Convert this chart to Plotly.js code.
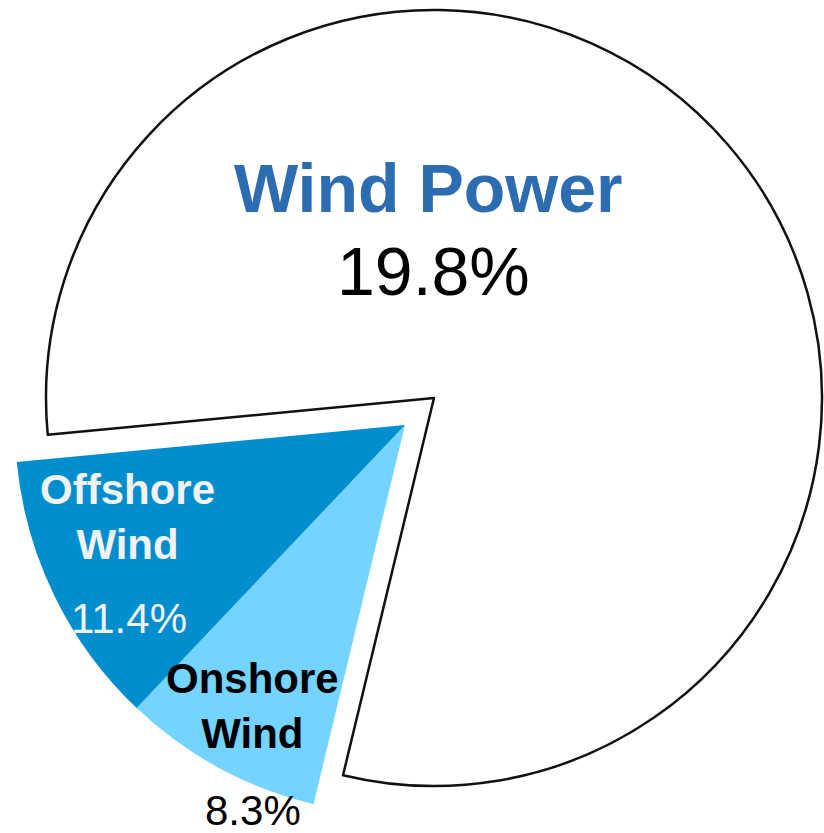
<!DOCTYPE html>
<html>
<head>
<meta charset="utf-8">
<script src="https://cdn.plot.ly/plotly-3.0.1.min.js"></script>
<style>html,body{margin:0;padding:0;background:#fff;}#chart{width:824px;height:833px;}</style>
</head>
<body>
<div id="chart"></div>
<script>
// Data
const labels = ["Other", "Onshore Wind", "Offshore Wind"];
const values = [80.2, 8.3, 11.4];
const windTotal = "19.8%";
const labelTexts = {
  "Onshore Wind": "8.3%",
  "Offshore Wind": "11.4%"
};

const FONT = "Liberation Sans, Arial, sans-serif";
const clear = "rgba(0,0,0,0)";

// Base pie: only the large white slice is drawn (outlined)
const basePie = {
  type: "pie",
  labels: labels,
  values: values,
  sort: false,
  direction: "clockwise",
  rotation: 264.55,
  textinfo: "none",
  hoverinfo: "none",
  showlegend: false,
  domain: {x: [46/824, 822/824], y: [47/833, 823/833]},
  marker: {
    colors: ["#ffffff", clear, clear],
    line: {color: ["#111111", clear, clear], width: [2.5, 0, 0]}
  }
};

// Exploded wind slices (same data, drawn offset)
const windPie = {
  type: "pie",
  labels: labels,
  values: values,
  sort: false,
  direction: "clockwise",
  rotation: 264.55,
  textinfo: "none",
  hoverinfo: "none",
  showlegend: false,
  domain: {x: [15/824, 795/824], y: [18/833, 798/833]},
  marker: {
    colors: [clear, "#75D3FF", "#008ECE"],
    line: {color: [clear, "#75D3FF", "#008ECE"], width: [0, 0, 0]}
  }
};

const annotations = [
  {text: "<b>Wind Power</b>", x: 428/824, y: (833-188)/833, font: {size: 68, color: "#2C6CB0", family: FONT}},
  {text: windTotal, x: 433.5/824, y: (833-270.5)/833, font: {size: 68, color: "#000000", family: FONT}},
  {text: "<b>Offshore<br>Wind</b>", x: 128/824, y: (833-517)/833, font: {size: 42, color: "#F2F2F2", family: FONT}},
  {text: labelTexts["Offshore Wind"], x: 128.5/824, y: (833-618.5)/833, font: {size: 42, color: "#F2F2F2", family: FONT}},
  {text: "<b>Onshore<br>Wind</b>", x: 252.5/824, y: (833-705.5)/833, font: {size: 42, color: "#000000", family: FONT}},
  {text: labelTexts["Onshore Wind"], x: 252.5/824, y: (833-810.5)/833, font: {size: 42, color: "#000000", family: FONT}}
].map(a => Object.assign({xref: "paper", yref: "paper", showarrow: false, xanchor: "center", yanchor: "middle"}, a));

const layout = {
  width: 824,
  height: 833,
  margin: {l: 0, r: 0, t: 0, b: 0},
  paper_bgcolor: "#ffffff",
  plot_bgcolor: "#ffffff",
  showlegend: false,
  annotations: annotations,
  font: {family: FONT}
};

Plotly.newPlot("chart", [basePie, windPie], layout, {displayModeBar: false, staticPlot: true});
</script>
</body>
</html>
